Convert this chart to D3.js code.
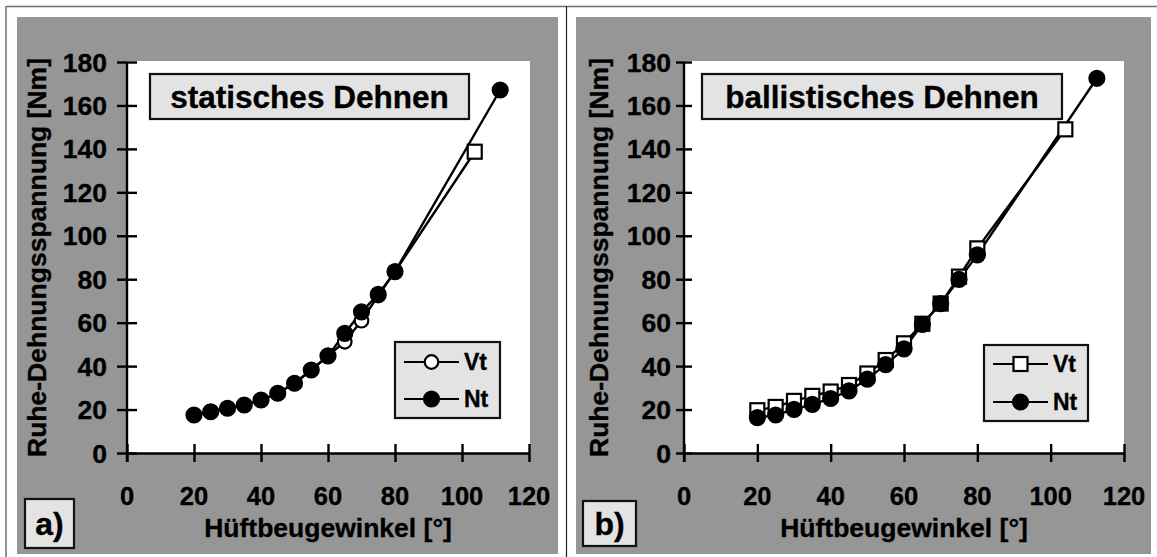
<!DOCTYPE html>
<html>
<head>
<meta charset="utf-8">
<script src="https://cdn.jsdelivr.net/npm/d3@7"></script>
<style>
  html, body { margin: 0; padding: 0; background: #fff; }
  svg { display: block; }
  text { font-family: "Liberation Sans", Arial, sans-serif; font-weight: bold; fill: #000;
         stroke: #000; stroke-width: 0.35px; }
</style>
</head>
<body>
<svg id="chart" width="1157" height="557"></svg>
<script>
// Hip flexion angle (°) against resting stretch tension (Nm), before (Vt) and after (Nt)
const staticVtAngles = [20, 25, 30, 35, 40, 45, 50, 55, 60, 65, 70, 75, 80, 103.8];
const staticVt       = [17.5, 19, 20.6, 22.1, 24.4, 27.5, 32.1, 38.2, 44.7, 51.2, 60.9, 72.5, 83.5, 138.7];
const staticVtShape  = ["circle", "circle", "circle", "circle", "circle", "circle", "circle",
                        "circle", "circle", "circle", "circle", "circle", "circle", "square"];
const staticNtAngles = [20, 25, 30, 35, 40, 45, 50, 55, 60, 65, 70, 75, 80, 111.4];
const staticNt       = [17.5, 19, 20.6, 22.1, 24.4, 27.5, 32.1, 38.2, 44.7, 55.1, 65, 73, 83.5, 167.1];

const ballisticVtAngles = [20, 25, 30, 35, 40, 45, 50, 55, 60, 65, 70, 75, 80, 104];
const ballisticVt       = [19.7, 21.2, 24, 26.3, 28.3, 31.3, 36.6, 42.8, 50.5, 59.5, 68.8, 81.2, 94.2, 149];
const ballisticNtAngles = [20, 25, 30, 35, 40, 45, 50, 55, 60, 65, 70, 75, 80, 112.6];
const ballisticNt       = [16.3, 17.5, 20.1, 22.4, 25.1, 28.6, 34, 40.7, 47.9, 59.2, 68.8, 79.9, 91.2, 172.5];

const xTicks = [0, 20, 40, 60, 80, 100, 120];
const yTicks = [0, 20, 40, 60, 80, 100, 120, 140, 160, 180];
const xTitle = "Hüftbeugewinkel [°]";
const yTitle = "Ruhe-Dehnungsspannung [Nm]";
const panelTitles = ["statisches Dehnen", "ballistisches Dehnen"];
const panelLetters = ["a)", "b)"];
const seriesNames = ["Vt", "Nt"];

const svg = d3.select("#chart");
const GRAY = "#969696";
const BOX = "#e3e3e3";

// outer frame lines
svg.append("line").attr("x1", 6).attr("x2", 1157).attr("y1", 6.5).attr("y2", 6.5)
  .attr("stroke", "#6e6e6e").attr("stroke-width", 1.5);
svg.append("line").attr("x1", 6).attr("x2", 6).attr("y1", 6).attr("y2", 557)
  .attr("stroke", "#6e6e6e").attr("stroke-width", 1.5);
svg.append("line").attr("x1", 566.5).attr("x2", 566.5).attr("y1", 6).attr("y2", 557)
  .attr("stroke", "#222").attr("stroke-width", 1.2);

const panels = [
  {
    bg: [17, 17, 558, 554], plotX: [127, 529], plotRight: 530, plotY: [453, 62],
    yLabelEnd: 107, tickOut: 10, yTitleX: 46,
    titleBox: [150, 74, 469, 119], legendBox: [395, 342, 500, 418], legendRows: [362, 399],
    legendLine: [404, 459], letterBox: [25, 499, 74, 548],
    series: [
      { x: staticVtAngles, y: staticVt, shape: staticVtShape, fill: "#fff" },
      { x: staticNtAngles, y: staticNt, shape: staticNtAngles.map(() => "circle"), fill: "#000" }
    ],
    legendShapes: ["circle", "circle"]
  },
  {
    bg: [576, 17, 1151, 554], plotX: [684, 1124], plotRight: 1124, plotY: [453, 62],
    yLabelEnd: 671, tickOut: 8, yTitleX: 608,
    titleBox: [702, 74, 1062, 119], legendBox: [984, 345, 1088, 421], legendRows: [364, 402],
    legendLine: [993, 1048], letterBox: [583, 501, 636, 546],
    series: [
      { x: ballisticVtAngles, y: ballisticVt, shape: ballisticVtAngles.map(() => "square"), fill: "#fff" },
      { x: ballisticNtAngles, y: ballisticNt, shape: ballisticNtAngles.map(() => "circle"), fill: "#000" }
    ],
    legendShapes: ["square", "circle"]
  }
];

function drawMarker(g, shape, cx, cy, fill) {
  if (shape === "square") {
    g.append("rect").attr("x", cx - 7).attr("y", cy - 7).attr("width", 14).attr("height", 14)
      .attr("fill", fill).attr("stroke", "#000").attr("stroke-width", 2.2);
  } else {
    g.append("circle").attr("cx", cx).attr("cy", cy).attr("r", fill === "#000" ? 7.5 : 6.8)
      .attr("fill", fill).attr("stroke", "#000").attr("stroke-width", 2.2);
  }
}

panels.forEach((p, i) => {
  const g = svg.append("g");
  g.append("rect").attr("x", p.bg[0]).attr("y", p.bg[1])
    .attr("width", p.bg[2] - p.bg[0]).attr("height", p.bg[3] - p.bg[1]).attr("fill", GRAY);

  const x = d3.scaleLinear().domain([0, 120]).range(p.plotX);
  const y = d3.scaleLinear().domain([0, 180]).range(p.plotY);

  // plot area
  g.append("rect").attr("x", p.plotX[0]).attr("y", p.plotY[1] - 1)
    .attr("width", p.plotRight - p.plotX[0]).attr("height", p.plotY[0] - p.plotY[1] + 1)
    .attr("fill", "#fff");

  // x axis, ticks crossing the line
  const xAxis = d3.axisBottom(x).tickValues(xTicks).tickSizeInner(0).tickSizeOuter(0).tickFormat("");
  const xa = g.append("g").attr("transform", `translate(0,${p.plotY[0]})`).call(xAxis);
  xa.select(".domain").attr("stroke", "#000").attr("stroke-width", 2.4);
  xa.selectAll(".tick line").attr("y1", -9).attr("y2", 9).attr("stroke", "#000").attr("stroke-width", 2.4);
  xTicks.forEach(v => {
    g.append("text").attr("x", x(v)).attr("y", 505).attr("text-anchor", "middle")
      .attr("font-size", 25.5).text(v);
  });

  // y axis
  const yAxis = d3.axisLeft(y).tickValues(yTicks).tickSizeInner(0).tickSizeOuter(0).tickFormat("");
  const ya = g.append("g").attr("transform", `translate(${p.plotX[0]},0)`).call(yAxis);
  ya.select(".domain").attr("stroke", "#000").attr("stroke-width", 2.4)
    .attr("d", `M0,${p.plotY[1]}V${p.plotY[0] + 9}`);
  ya.selectAll(".tick line").attr("x1", -p.tickOut).attr("x2", p.tickOut)
    .attr("stroke", "#000").attr("stroke-width", 2.4);
  yTicks.forEach(v => {
    g.append("text").attr("x", p.yLabelEnd).attr("y", y(v)).attr("dy", "0.36em")
      .attr("text-anchor", "end").attr("font-size", 26.5).text(v);
  });

  // axis titles
  g.append("text").attr("x", (p.plotX[0] + p.plotX[1]) / 2).attr("y", 537)
    .attr("text-anchor", "middle").attr("font-size", 26.5).text(xTitle);
  g.append("text").attr("transform", `translate(${p.yTitleX},${(p.plotY[0] + p.plotY[1]) / 2}) rotate(-90)`)
    .attr("text-anchor", "middle").attr("font-size", 26.5).text(yTitle);

  // title box
  const tb = p.titleBox;
  g.append("rect").attr("x", tb[0]).attr("y", tb[1]).attr("width", tb[2] - tb[0]).attr("height", tb[3] - tb[1])
    .attr("fill", BOX).attr("stroke", "#111").attr("stroke-width", 2.2);
  g.append("text").attr("x", (tb[0] + tb[2]) / 2).attr("y", (tb[1] + tb[3]) / 2).attr("dy", "0.36em")
    .attr("text-anchor", "middle").attr("font-size", 31.5).text(panelTitles[i]);

  // series: lines first, then markers
  const line = d3.line().x(d => x(d[0])).y(d => y(d[1]));
  p.series.forEach(s => {
    const pts = s.x.map((v, k) => [v, s.y[k]]);
    g.append("path").datum(pts).attr("d", line).attr("fill", "none")
      .attr("stroke", "#000").attr("stroke-width", 2.4);
  });
  p.series.forEach(s => {
    s.x.forEach((v, k) => drawMarker(g, s.shape[k], x(v), y(s.y[k]), s.fill));
  });

  // legend
  const lb = p.legendBox;
  g.append("rect").attr("x", lb[0]).attr("y", lb[1]).attr("width", lb[2] - lb[0]).attr("height", lb[3] - lb[1])
    .attr("fill", BOX).attr("stroke", "#111").attr("stroke-width", 2.2);
  seriesNames.forEach((name, k) => {
    const ry = p.legendRows[k];
    g.append("line").attr("x1", p.legendLine[0]).attr("x2", p.legendLine[1]).attr("y1", ry).attr("y2", ry)
      .attr("stroke", "#000").attr("stroke-width", 2.2);
    drawMarker(g, p.legendShapes[k], (p.legendLine[0] + p.legendLine[1]) / 2, ry, p.series[k].fill);
    g.append("text").attr("x", p.legendLine[1] + 5).attr("y", ry).attr("dy", "0.36em")
      .attr("font-size", 23).text(name);
  });

  // panel letter
  const cb = p.letterBox;
  g.append("rect").attr("x", cb[0]).attr("y", cb[1]).attr("width", cb[2] - cb[0]).attr("height", cb[3] - cb[1])
    .attr("fill", BOX).attr("stroke", "#111").attr("stroke-width", 2.2);
  g.append("text").attr("x", (cb[0] + cb[2]) / 2).attr("y", (cb[1] + cb[3]) / 2).attr("dy", "0.36em")
    .attr("text-anchor", "middle").attr("font-size", 32).text(panelLetters[i]);
});
</script>
</body>
</html>
